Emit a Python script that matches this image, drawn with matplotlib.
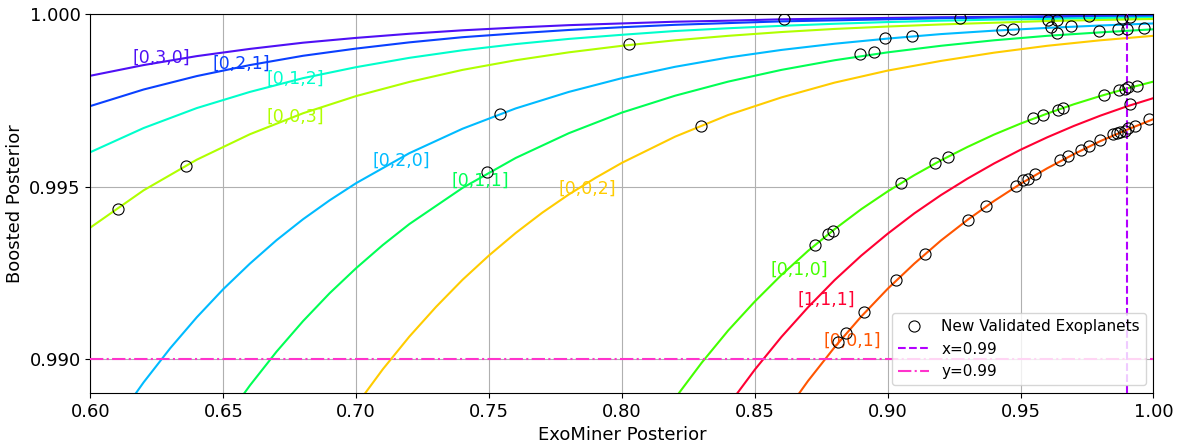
import matplotlib
matplotlib.use("Agg")
import matplotlib.pyplot as plt

# boosted posterior curves
x_top = [0.60, 0.62, 0.64, 0.66, 0.68, 0.70, 0.72, 0.74, 0.76, 0.78, 0.80,
         0.82, 0.84, 0.86, 0.88, 0.90, 0.92, 0.94, 0.96, 0.98, 1.00]
y_030 = [0.99822, 0.99853, 0.99879, 0.99900, 0.99918, 0.99932, 0.99944, 0.99954, 0.99962, 0.99969, 0.99974,
         0.99979, 0.99982, 0.99986, 0.99988, 0.99990, 0.99992, 0.99993, 0.99995, 0.99996, 0.99996]
y_021 = [0.99734, 0.99782, 0.99821, 0.99853, 0.99880, 0.99901, 0.99919, 0.99934, 0.99945, 0.99955, 0.99963,
         0.99970, 0.99975, 0.99980, 0.99983, 0.99986, 0.99989, 0.99991, 0.99993, 0.99994, 0.99995]
y_012 = [0.99600, 0.99670, 0.99728, 0.99775, 0.99815, 0.99847, 0.99874, 0.99896, 0.99914, 0.99929, 0.99941,
         0.99952, 0.99960, 0.99967, 0.99973, 0.99978, 0.99982, 0.99985, 0.99987, 0.99990, 0.99991]
y_003 = [0.99381, 0.99489, 0.99578, 0.99652, 0.99713, 0.99763, 0.99804, 0.99839, 0.99867, 0.99890, 0.99909,
         0.99925, 0.99938, 0.99949, 0.99958, 0.99965, 0.99971, 0.99976, 0.99981, 0.99984, 0.99987]

x_020 = [0.61, 0.62, 0.63, 0.64, 0.65, 0.66, 0.67, 0.68, 0.69, 0.70, 0.72, 0.74, 0.76, 0.78, 0.80,
         0.82, 0.84, 0.86, 0.88, 0.90, 0.92, 0.94, 0.96, 0.98, 1.00]
y_020 = [0.98822, 0.98931, 0.99030, 0.99120, 0.99202, 0.99276, 0.99344, 0.99405, 0.99460, 0.99510,
         0.99597, 0.99668, 0.99727, 0.99775, 0.99815, 0.99848, 0.99875, 0.99897, 0.99915, 0.99930,
         0.99943, 0.99953, 0.99961, 0.99968, 0.99974]

x_011 = [0.65, 0.66, 0.67, 0.68, 0.69, 0.70, 0.71, 0.72, 0.74, 0.76, 0.78, 0.80,
         0.82, 0.84, 0.86, 0.88, 0.90, 0.92, 0.94, 0.96, 0.98, 1.00]
y_011 = [0.98815, 0.98922, 0.99020, 0.99109, 0.99190, 0.99263, 0.99330, 0.99391, 0.99496, 0.99583,
         0.99655, 0.99715, 0.99764, 0.99805, 0.99839, 0.99867, 0.99890, 0.99909, 0.99925, 0.99938,
         0.99948, 0.99957]

x_002 = [0.70, 0.71, 0.72, 0.73, 0.74, 0.75, 0.76, 0.77, 0.78, 0.79, 0.80,
         0.82, 0.84, 0.86, 0.88, 0.90, 0.92, 0.94, 0.96, 0.98, 1.00]
y_002 = [0.98864, 0.98969, 0.99064, 0.99150, 0.99229, 0.99300, 0.99365, 0.99424, 0.99477, 0.99525,
         0.99569, 0.99645, 0.99708, 0.99759, 0.99802, 0.99837, 0.99865, 0.99889, 0.99909, 0.99925,
         0.99938]

x_010 = [0.82, 0.83, 0.84, 0.85, 0.86, 0.87, 0.88, 0.89, 0.90, 0.91,
         0.92, 0.93, 0.94, 0.95, 0.96, 0.97, 0.98, 0.99, 1.00]
y_010 = [0.98885, 0.98988, 0.99082, 0.99166, 0.99243, 0.99313, 0.99376, 0.99434, 0.99486, 0.99533,
         0.99576, 0.99615, 0.99651, 0.99683, 0.99712, 0.99739, 0.99763, 0.99785, 0.99805]

x_111 = [0.84, 0.85, 0.86, 0.87, 0.88, 0.89, 0.90, 0.91, 0.92,
         0.93, 0.94, 0.95, 0.96, 0.97, 0.98, 0.99, 1.00]
y_111 = [0.98864, 0.98968, 0.99063, 0.99149, 0.99228, 0.99299, 0.99363, 0.99422, 0.99475,
         0.99523, 0.99567, 0.99607, 0.99643, 0.99676, 0.99706, 0.99733, 0.99757]

x_001 = [0.86, 0.87, 0.88, 0.89, 0.90, 0.91, 0.92, 0.93,
         0.94, 0.95, 0.96, 0.97, 0.98, 0.99, 1.00]
y_001 = [0.98827, 0.98935, 0.99033, 0.99122, 0.99203, 0.99276, 0.99343, 0.99403,
         0.99458, 0.99508, 0.99553, 0.99594, 0.99632, 0.99665, 0.99696]

labels = ['[0,3,0]', '[0,2,1]', '[0,1,2]', '[0,0,3]', '[0,2,0]',
          '[0,1,1]', '[0,0,2]', '[0,1,0]', '[1,1,1]', '[0,0,1]']
curves_x = [x_top, x_top, x_top, x_top, x_020, x_011, x_002, x_010, x_111, x_001]
curves_y = [y_030, y_021, y_012, y_003, y_020, y_011, y_002, y_010, y_111, y_001]
colors = ['#4f10f5', '#0a40ff', '#00ffcc', '#b0ff00', '#00bbff',
          '#00ff55', '#ffcc00', '#44ff00', '#ff0033', '#ff5500']
# where the text labels sit
label_x = [0.6265, 0.6569, 0.6769, 0.6769, 0.7168, 0.7467, 0.7869, 0.8666, 0.8767, 0.8867]
label_y = [0.99873, 0.99856, 0.99812, 0.99703, 0.99576, 0.99517, 0.99494, 0.99259, 0.99172, 0.99052]

# new validated exoplanets
planet_x = [0.6105, 0.6358, 0.7491, 0.7541, 0.8028, 0.8296, 0.8609, 0.8896, 0.8949, 0.8990,
            0.9093, 0.9272, 0.9431, 0.9472, 0.9603, 0.9637, 0.9615, 0.9638, 0.9688, 0.9756,
            0.9795, 0.9866, 0.9883, 0.9900, 0.9910, 0.9963,
            0.8726, 0.8776, 0.8795, 0.9050, 0.9178, 0.9226, 0.9548, 0.9586, 0.9642, 0.9659,
            0.9814, 0.9871, 0.9893, 0.9905, 0.9937,
            0.9910,
            0.8814, 0.8843, 0.8912, 0.9030, 0.9140, 0.9301, 0.9369, 0.9482, 0.9510, 0.9529,
            0.9554, 0.9648, 0.9680, 0.9728, 0.9759, 0.9797, 0.9849, 0.9862, 0.9874, 0.9893,
            0.9905, 0.9930, 0.9984]
planet_y = [0.99436, 0.99560, 0.99542, 0.99712, 0.99914, 0.99675, 0.99987, 0.99885, 0.99890, 0.99931,
            0.99937, 0.99991, 0.99955, 0.99957, 0.99984, 0.99984, 0.99963, 0.99945, 0.99967, 0.99996,
            0.99952, 0.99957, 0.99991, 0.99957, 0.99992, 0.99960,
            0.99329, 0.99361, 0.99371, 0.99510, 0.99567, 0.99586, 0.99698, 0.99707, 0.99722, 0.99729,
            0.99766, 0.99780, 0.99782, 0.99788, 0.99793,
            0.99739,
            0.99047, 0.99074, 0.99135, 0.99227, 0.99305, 0.99404, 0.99442, 0.99502, 0.99518, 0.99523,
            0.99536, 0.99576, 0.99590, 0.99606, 0.99619, 0.99635, 0.99654, 0.99657, 0.99659, 0.99662,
            0.99669, 0.99675, 0.99696]

thr = 0.99

fig, ax = plt.subplots(figsize=(11.78, 4.43), dpi=100)
fig.subplots_adjust(left=0.0768, right=0.9792, top=0.9673, bottom=0.1129)

for cx, cy, c, lab, lx, ly in zip(curves_x, curves_y, colors, labels, label_x, label_y):
    ax.plot(cx, cy, color=c, lw=1.5, zorder=2)
    ax.text(lx, ly, lab, color=c, fontsize=12.5, ha='center', va='center', zorder=3)

ax.plot(planet_x, planet_y, 'o', mfc='none', mec='k', ms=8, mew=0.8,
        label='New Validated Exoplanets', zorder=4)
ax.axvline(thr, color='#b300ff', ls='--', lw=1.5, label='x=0.99', zorder=3)
ax.axhline(thr, color='#ff33cc', ls='-.', lw=1.5, label='y=0.99', zorder=3)

ax.set_xlim(0.6, 1.0)
ax.set_ylim(0.989, 1.0)
ax.set_yticks([0.990, 0.995, 1.000])
ax.set_yticklabels(['0.990', '0.995', '1.000'])
ax.tick_params(labelsize=13)
ax.grid(True)
ax.set_xlabel('ExoMiner Posterior', fontsize=13)
ax.set_ylabel('Boosted Posterior', fontsize=13)
ax.legend(loc='lower right', fontsize=11)

plt.savefig('out.png')
